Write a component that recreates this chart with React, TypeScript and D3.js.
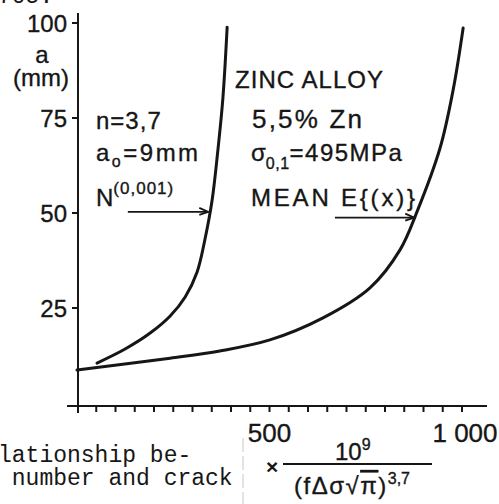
import * as d3 from "d3";

// crack length a (mm) vs. cycles (x 10^9 / (f Δσ √π)^3.7)
const lowerCycles = [52, 125, 190, 242, 281, 312, 332, 351, 366, 379, 390];
const lowerCrack = [10.5, 14.2, 18.4, 22.9, 27.9, 34.5, 42.9, 53.4, 66.6, 80.3, 98.9];

const meanCycles = [0, 242, 371, 501, 639, 761, 839, 883, 943, 977, 1003];
const meanCrack = [8.7, 11.8, 13.7, 16.6, 22.4, 30.3, 40.3, 50.3, 67.1, 82.4, 98.7];

const yTicks = [25, 50, 75, 100];
const xTicks = [0, 50, 100, 150, 200, 250, 300, 350, 400, 450, 500, 550, 600, 650, 700, 750, 800, 850, 900, 950, 1000];
const xLabelValues = [500, 1000];
const xLabelTexts = ["500", "1 000"];

// arrows: [fromCycles, toCycles, crack]
const arrowN = [132, 341, 50.3];
const arrowMean = [670, 876, 48.8];

const INK = "#161616";
const SANS = "'Liberation Sans', Arial, sans-serif";
const MONO = "'Liberation Mono', 'Courier New', monospace";

const App = () => {
    const x = d3.scaleLinear().domain([0, 1000]).range([77, 462]);
    const y = d3.scaleLinear().domain([0, 100]).range([403, 23]);

    const line = d3
        .line<[number, number]>()
        .x((d) => x(d[0]))
        .y((d) => y(d[1]))
        .curve(d3.curveCatmullRom.alpha(0.5));

    const lowerPts = lowerCycles.map((c, i) => [c, lowerCrack[i]] as [number, number]);
    const meanPts = meanCycles.map((c, i) => [c, meanCrack[i]] as [number, number]);

    const axisY = y(0) + 3;
    const axisX = x(0) + 1;

    const arrow = (a: number[]) => {
        const x1 = x(a[0]);
        const x2 = x(a[1]);
        const yy = y(a[2]);
        return (
            <g stroke={INK} strokeWidth={1.8} fill="none">
                <line x1={x1} x2={x2} y1={yy} y2={yy} />
                <path d={`M${x2 - 9},${yy - 4} L${x2},${yy} L${x2 - 9},${yy + 3}`} />
            </g>
        );
    };

    return (
        <svg
            width={499}
            height={504}
            style={{ position: "absolute", left: 0, top: 0, background: "#fff" }}
        >
            {/* clipped caption text from previous line */}
            <text x={-2} y={3} fontFamily={MONO} fontSize={23} fill={INK}>
                705.
            </text>

            {/* axes */}
            <g stroke={INK} strokeWidth={2} fill="none">
                <line x1={axisX} x2={axisX} y1={y(100) - 10} y2={axisY + 7} />
                <line x1={x(0) - 10} x2={x(1000) + 25} y1={axisY} y2={axisY} />
                {yTicks.map((t) => (
                    <line key={t} x1={axisX - 6} x2={axisX} y1={y(t)} y2={y(t)} />
                ))}
                {xTicks.slice(1).map((t) => (
                    <line key={t} x1={x(t)} x2={x(t)} y1={axisY} y2={axisY + 6} />
                ))}
            </g>

            <g fontFamily={SANS} fill={INK} stroke={INK} strokeWidth={0.35} fontSize={24}>
                {yTicks.map((t) => (
                    <text key={t} x={67} y={y(t) + 8.5} textAnchor="end">
                        {t}
                    </text>
                ))}
                <text x={42} y={63} textAnchor="middle">a</text>
                <text x={41} y={86} textAnchor="middle">(mm)</text>

                {xLabelValues.map((v, i) => (
                    <text key={v} x={x(v) + (i === 1 ? 3 : 0)} y={442} textAnchor="middle" fontSize={26}>
                        {xLabelTexts[i]}
                    </text>
                ))}

                {/* left annotation */}
                <text x={96} y={129} letterSpacing={1}>n=3,7</text>
                <text x={96} y={161} letterSpacing={2.5}>
                    a<tspan fontSize={16} dy={6}>o</tspan>
                    <tspan dy={-6}>=9mm</tspan>
                </text>
                <text x={96} y={206}>
                    N<tspan fontSize={17} dy={-12} letterSpacing={1}>(0,001)</tspan>
                </text>

                {/* right annotation */}
                <text x={235} y={88} textLength={148} lengthAdjust="spacing">ZINC ALLOY</text>
                <text x={252} y={128} fontSize={26} letterSpacing={2.2}>5,5% Zn</text>
                <text x={251} y={161}>
                    σ<tspan fontSize={16} dy={8} letterSpacing={0.5}>0,1</tspan>
                    <tspan dy={-8} letterSpacing={1.5}>=495MPa</tspan>
                </text>
                <text x={251} y={206} textLength={164} lengthAdjust="spacing">MEAN E{"{(x)}"}</text>
            </g>

            {/* curves */}
            <g fill="none" stroke={INK} strokeWidth={3} strokeLinecap="round">
                <path d={line(lowerPts) ?? ""} />
                <path d={line(meanPts) ?? ""} />
            </g>

            {arrow(arrowN)}
            {arrow(arrowMean)}

            {/* unit expression */}
            <line x1={243} x2={243} y1={438} y2={504} stroke="#c8c8c8" strokeWidth={1} strokeDasharray="14,4" />
            <g fontFamily={SANS} fill={INK}>
                <text x={266} y={474} fontSize={21} fontWeight="bold">×</text>
                <line x1={283} x2={432} y1={464} y2={464} stroke={INK} strokeWidth={1.8} />
                <text x={335} y={460} fontSize={24} stroke={INK} strokeWidth={0.35}>
                    10<tspan fontSize={16} dy={-10}>9</tspan>
                </text>
                <text x={294} y={494} fontSize={24} letterSpacing={1.5} stroke={INK} strokeWidth={0.35}>
                    (fΔσ√<tspan textDecoration="overline">π</tspan>)
                    <tspan fontSize={16} dy={-10} letterSpacing={0}>3,7</tspan>
                </text>
            </g>

            {/* typewriter caption fragment */}
            <g fontFamily={MONO} fontSize={23} fill={INK}>
                <text x={-2} y={462} xmlSpace="preserve">lationship be-</text>
                <text x={-2} y={485} xmlSpace="preserve" style={{ whiteSpace: "pre" }}> number and crack</text>
            </g>
        </svg>
    );
};

export default App;
